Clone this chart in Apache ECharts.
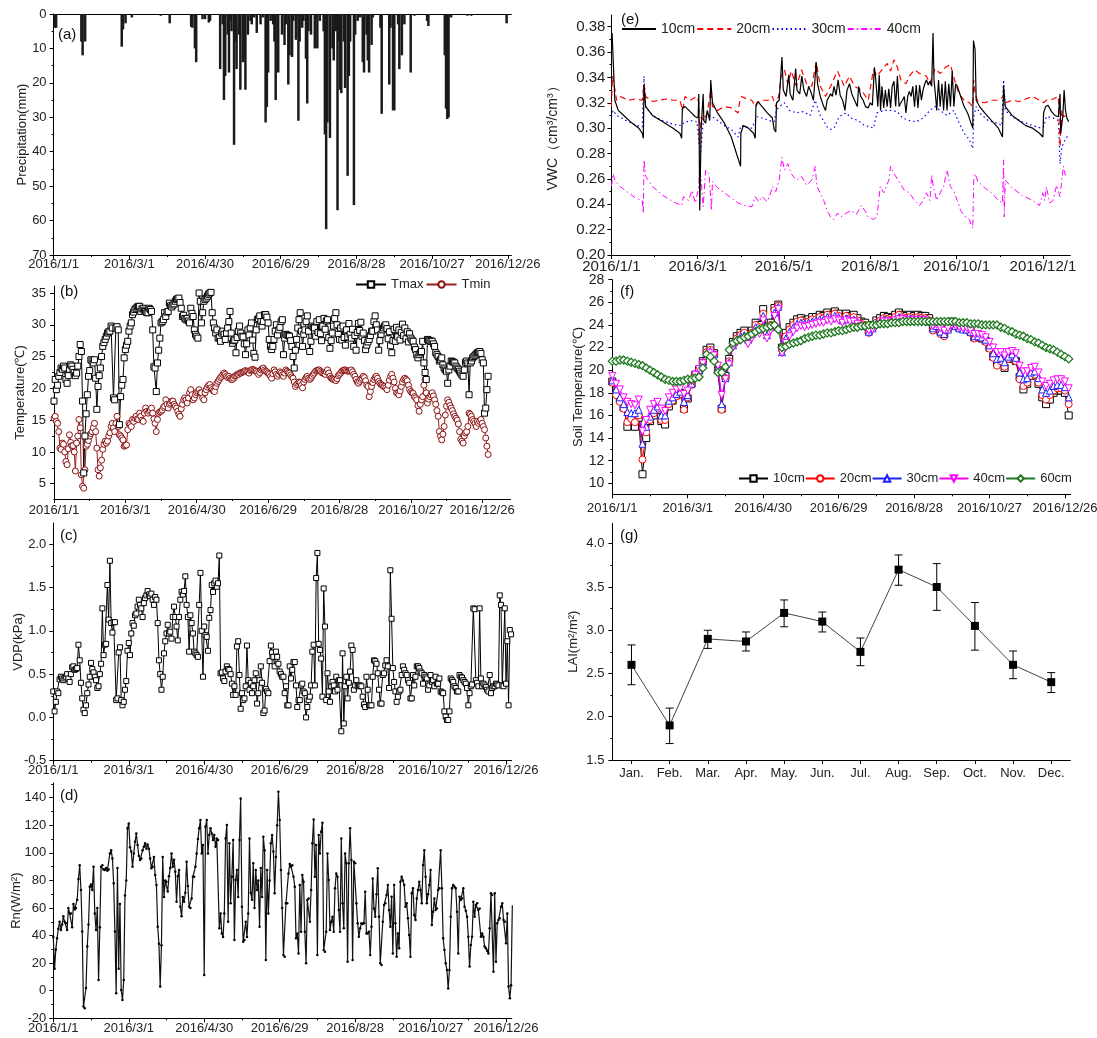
<!DOCTYPE html>
<html>
<head>
<meta charset="utf-8">
<title>2016 meteorology panels</title>
<script src="https://cdn.jsdelivr.net/npm/echarts@6/dist/echarts.min.js"></script>
<style>
  html, body { margin: 0; padding: 0; background: #fff; }
  #main { width: 1097px; height: 1038px; }
</style>
</head>
<body>
<div id="main"></div>
<script>
// ---- tick labels ----
const dateLabels = ['2016/1/1', '2016/3/1', '2016/4/30', '2016/6/29', '2016/8/28', '2016/10/27', '2016/12/26'];
const vwcLabels = ['2016/1/1', '2016/3/1', '2016/5/1', '2016/8/1', '2016/10/1', '2016/12/1'];
const months = ['Jan.', 'Feb.', 'Mar.', 'Apr.', 'May.', 'Jun.', 'Jul.', 'Aug.', 'Sep.', 'Oct.', 'Nov.', 'Dec.'];

// ---- (a) precipitation, day of year -> mm ----
const precipDays = [1,2,22,23,25,54,55,57,62,85,92,109,110,112,113,118,120,123,124,132,134,135,136,138,139,140,141,143,144,145,147,148,150,151,152,154,156,157,159,161,164,166,168,169,170,172,174,175,176,178,181,183,184,186,187,189,190,192,194,195,197,198,200,201,202,204,207,209,211,214,215,216,217,219,221,222,224,225,226,227,228,230,231,233,234,235,238,239,241,243,245,246,248,249,250,252,253,259,260,266,267,269,270,273,274,276,278,283,286,296,297,310,311,312,313,315,328,331,359];
const precipVals = [4,4,8,12,8,9.5,4.5,2.7,1,0.5,2.7,3.7,4,10,14,1.5,1.5,2.5,2,16,3,25,18,6,17,2,5,38,8,16,6,22,14,13,22,6,2,3,1,5.5,3,1,31.5,27,17,2,3,8,25,17,6,9,3,20.5,12,12.5,2,7.5,31,8,4,2,13,26,5,6,10,10,2,5,35,62.5,31.5,36,10,13.5,5,57,8,22,23,8,21.5,47,18,8,55.5,6,2,1,14,17,6,13.5,17,9,1,4,29,20.5,4,28,28,3,16,12,3,17,0.5,2,3.5,12,27.5,30.5,30,1,0.5,0.5,2.7];

// ---- (b) daily air temperature ----
const tmax = [
18,21.4,19.8,20.5,21.9,22.5,23.2,23,23.5,23.2, 21.4,20.8,22,23,23.7,23.5,23,22.5,22,22.4,
23.5,25,26.9,25.8,18,6.7,12.5,16,19,21.9, 22.8,24.5,24.3,24,24.5,21.6,16.7,20.3,22,23.2,
25,26.6,27.2,27.7,28.2,28.7,28.9,29,29.8,29.5, 18.5,18.2,29.5,29.7,29.2,14.3,18.7,20.5,21.4,24.8,
26.1,26.8,27.4,29,29.8,30.3,31.6,32,32.4,32.6, 32.8,32.9,32.9,32.1,32.5,32.6,32.3,32.1,31.9,31.9,
32.6,32.4,32.1,29.2,23.4,23.2,19.5,24,26,27.9, 30.3,30.5,30.8,31.9,31.3,32,32.1,33.4,33,32.8,
33.1,33.3,33.7,34,34.1,34.2,33.5,32.6,31.3,31.5, 31,30.8,31,30.6,30.3,32.6,31.8,31.3,29.2,28.5,
28.2,27.9,35,33.7,30.3,31.9,33.7,34,34.2,34.5, 34.8,35,35.1,31.9,30.3,29.5,28.7,29.2,27.9,28,
27.4,28.7,29,28.5,27.7,28.7,29.5,30.5,32.1,28.7, 27.1,27.5,27.6,25.6,28,29,29.8,28.7,28.2,28.1,
27,25.3,27,29.2,28.4,29.5,30.3,27.6,25.5,24.9, 29.2,30.8,31,31.4,30.5,29.8,30.5,31.6,31.6,31.2,
30.3,27.7,26.6,26.1,26.6,27.7,29,30,28.4,29.2, 29.6,30.5,30.8,25.3,27.9,28.5,28.4,28.3,28.2,27.5,
26.6,25,23.2,26,27.7,29.5,30.8,31.9,29,26.6, 28.5,29.2,30.5,31.4,29,25.8,27.4,29.8,29.6,29.5,
28.2,30.5,28.8,30.8,28.6,27.5,29.8,31,29.3,30.6, 30.8,28,26.3,27.5,28.7,29.8,31,31.9,30,28.5,
27.7,29.5,27.6,29.8,28,26.8,29.2,28.1,30.2,28.5, 27.9,29.3,26.6,28.3,26,28.8,30.2,29.1,30.4,28.2,
28.7,27.5,26.1,26.8,27.3,27.7,28.3,29,29,30.5, 31.4,30,29.2,26,27.5,28.5,29.2,29.5,29.8,30,
29.4,27.8,28.9,26.7,25.6,27.5,29.3,27.4,29.6,28.1, 29.2,27.6,28.8,30.1,28.3,29.5,27.8,28.9,27.3,28.6,
27.9,27.6,27.4,26.5,26.1,25.3,24.8,25.3,25.6,25.8, 27.4,24,22.5,21.4,27.7,27.6,27.5,27.4,27.4,27,
26.6,25.6,25.3,25,24.3,24.5,24.8,23.7,23.2,22.9, 22.7,20.8,22.9,23.5,24.3,24.2,24.1,24,23.5,23.2,
23,22.7,22.4,22.1,21.9,22.9,24.1,24.3,24,19, 24,24.3,24.8,25,25.2,25.4,25.6,25.7,25.8,25.5,
24.5,24,16.1,16.9,19.8,21.9];
const tmin = [
15.3,15.6,14.8,14.5,13.2,10.6,10.4,11.4,11.2,10, 8.5,8,10.5,12.7,11.5,11,11,10,7,11.4,
12.5,15.1,13.8,6.4,4.6,4.3,7.2,10.9,11.2,11.8, 12.5,12.9,13.2,13.8,14.5,13.2,10.6,7.2,6.2,7.5,
8.7,10.4,11.2,11.7,11.4,11.7,12.5,13,14,14.5, 13.8,13.2,14.5,15.6,14,12.7,12.5,12.2,11.9,10.9,
11,11.1,13.5,14.5,14.3,14,15.1,14.8,15.3,15.6, 15.2,15.1,16.1,15.6,15,14.8,16.1,16.9,16.4,16.1,
16.4,16.6,16.9,16.1,15.2,14.5,13.2,15.1,16.1,16.3, 16.4,16.6,17,17.2,18.2,17.5,16.9,17.5,17.7,18,
18,17.5,17.2,16.9,16.4,15.9,15.6,16.8,17.5,18.2, 18.5,18.2,17.7,18.5,19.3,19.8,19,18.2,18.5,19,
19.3,19.5,19.8,19.3,19.3,18.5,18.2,19.3,19.8,20.2, 20.5,20.6,20.1,19.8,19.6,19.5,20.3,20.8,21.1,21.4,
21.7,21.9,22.2,22.4,22.2,21.9,21.7,21.9,21.6,21.4, 21.4,21.6,21.9,22,22.2,22.2,22.4,22.4,22.5,22.6,
22.7,22.8,22.7,22.6,22.4,22.8,22.9,23,22.9,22.8, 22.7,22.5,22.2,22.5,22.9,23.1,23.2,22.9,22.7,22.6,
22.4,22.2,21.9,21.6,22.3,22.9,22.6,22.2,21.9,22.2, 22.6,22.4,22.1,21.9,22.4,22.9,22.7,22.5,22.4,22.1,
21.8,21.6,21,20.3,20.6,20.8,21,20.9,20.5,20.1, 21,21.4,21.7,21.9,21.6,21.4,21.6,21.9,22.2,22.4,
22.7,22.8,22.9,22.9,22.7,22.5,22.4,22.3,22.2,22.6, 22.9,22.4,21.9,21.6,21.5,21.4,21.4,21.2,21.5,22,
22.2,22.4,22.7,22.8,22.9,22.9,22.8,22.7,22.7,22.8, 22.9,22.6,22.2,21.9,21.4,21,20.8,21.1,21.4,21.6,
21.9,21.7,21.2,20.5,20.3,18.7,19.5,20.3,20.9,21.4, 21.7,21.9,21.6,21.1,20.8,20.6,20.5,20.3,20.3,20.1,
19.8,20.5,21.3,21.9,22.2,21.6,21,20,19.3,19.2, 19,19.6,20.3,21,21.4,21.6,21.4,21.2,20.5,19.8,
19.5,19.3,19.2,18.7,18.5,18.2,17.3,16.4,17.5,18.2, 18.7,20.5,21.4,19.3,17.7,18.3,18.7,19,19.3,18.8,
18.2,17.5,16.5,15.6,13.2,12.5,11.9,12.8,14,15.8, 17.2,18.2,17.8,17.3,16.9,16.5,16,15.6,15.3,15,
14.4,13.2,12,11.7,11.4,12.5,13,13.2,14,16.1, 15.9,15.6,15.1,14.8,14.5,14,14.8,14.5,14.8,15.1,
14.5,14,13.5,12.2,10.9,9.6];

// ---- (c) daily VPD (kPa) ----
const vpd = [
0.3,0.07,0.18,0.3,0.28,0.44,0.47,0.45,0.43,0.45, 0.47,0.5,0.45,0.41,0.5,0.58,0.59,0.55,0.56,0.57,
0.84,0.66,0.4,0.22,0.09,0.05,0.14,0.28,0.38,0.47, 0.63,0.56,0.52,0.47,0.43,0.34,0.36,0.5,0.62,1.26,
0.72,0.84,0.85,1.53,1.13,1.81,1.09,0.98,1.1,1.1, 0.2,0.22,0.75,0.81,0.2,0.14,0.18,0.32,0.42,0.77,
0.86,0.72,0.97,1.09,1.06,1.18,1.2,1.28,1.36,1.3, 1.26,1.16,1.32,1.38,1.41,1.46,1.42,1.4,1.43,1.36,
1.3,1.39,1.36,1.09,0.66,0.5,0.32,0.47,0.74,0.88, 0.97,1.07,0.97,0.99,0.91,1.16,1.28,1.16,1.05,0.89,
1.16,1.36,1.45,1.42,1.46,1.63,1.3,1.16,0.76,1.18, 1.09,0.97,0.76,0.74,0.72,0.7,1.3,1.67,1.0,0.47,
1.05,0.95,0.93,0.77,1.15,1.24,1.53,1.45,1.55,1.58, 1.51,1.55,1.87,0.51,0.52,0.45,0.42,0.53,0.59,0.56,
0.55,0.5,0.39,0.26,0.36,0.26,0.82,0.88,0.49,0.1, 0.28,0.2,0.22,0.36,0.83,0.43,0.32,0.4,0.28,0.36,
0.43,0.51,0.16,0.28,0.43,0.59,0.4,0.05,0.08,0.33, 0.3,0.28,0.65,0.83,0.75,0.7,0.59,0.76,0.7,0.62,
0.53,0.5,0.47,0.47,0.28,0.36,0.14,0.14,0.59,0.45, 0.55,0.64,0.64,0.37,0.12,0.2,0.2,0.37,0.39,0.3,
0.28,0,0.12,0.2,0.24,0.37,0.76,0.84,0.37,1.61, 1.9,0.85,0.78,0.68,0.24,1.49,1.05,0.2,0.51,0.3,
0.18,0.36,0.41,0.37,0.3,0.47,0.32,0.43,0.43,-0.16, 0.74,-0.07,0.36,0.47,0.22,0.4,0.53,0.83,0.78,0.32,
0.37,0.43,0.36,0.37,0.37,0.36,0.24,0.15,0.12,0.47, 0.32,0.14,0.14,0.14,0.47,0.66,0.65,0.62,0.51,0.32,
0.16,0.16,0.49,0.51,0.6,0.66,0.59,0.34,1.7,1.14, 0.57,0.41,0.3,0.18,0.24,0.3,0.32,0.49,0.59,0.55,
0.51,0.49,0.43,0.4,0.22,0.22,0.49,0.37,0.47,0.59, 0.59,0.57,0.53,0.51,0.39,0.49,0.47,0.45,0.32,0.37,
0.49,0.41,0.43,0.36,0.47,0.39,0.39,0.45,0.3,0.29, 0.28,0.07,0.01,-0.03,-0.03,0.07,0.45,0.43,0.41,0.36,
0.34,0.3,0.3,0.49,0.47,0.46,0.43,0.41,0.39,0.34, 0.14,0.28,0.36,0.38,1.26,1.25,0.43,0.4,0.36,1.26,
0.45,0.36,0.39,0.37,0.35,0.32,0.3,0.49,0.28,0.34, 0.36,0.36,0.39,0.38,0.37,1.41,1.3,0.37,0.36,1.26,
0.39,0.88,0.14,1.01,0.96];

// ---- (d) daily net radiation (W/m2) ----
const rn = [
39,16,30,38,45,50,44,48,54,50, 49,44,60,56,56,46,63,59,60,66,
81,91,73,43,-11.5,-12.7,2,32,48,75.5, 77,73,90,56,44,60,7.8,46,90,91,
88,87.6,89,87,88,99.6,102,96,78,43, -1.9,89,16,63,0.6,-6.7,7.8,69,80,117.8,
121.4,104,101,90,99.6,108,114,105.7,98,94.8, 96,102,104.5,107,103,106,103,96,88.8,90,
97,84,76.7,46.5,34,3,33,97,68,80, 79,72,83,89,99.6,90,95,86.4,64.6,83,
87.6,61,54,68,64.6,71,93.6,76,61,60, 67,82.7,82.7,90,99.6,110,117.8,123.8,99.6,105.7,
11.4,119,123.8,99.6,113,117.8,114,109.3,113,104.5, 110.5,109.3,45.3,56,41.6,39,56,110.5,120.2,50,
107,63.4,82.7,109.3,36.8,80.3,87.6,68,109.3,139.5, 61,35.6,36.8,50,39,56,110.5,71,66,92.4,
60,87.6,73,80,46.5,89,68,111.7,102,22.3, 87.6,56,80,107,113,101,70.7,97,120,144.4,
123.8,87.6,60,26,24.7,63.4,63.4,85,92,90, 91,82.7,75.5,38,41.6,27,76.7,42.8,84,79.1,
42.8,19.9,65.8,67,50,73,107,124.3,82.7,105.7, 26,113,99.6,115.3,121.9,29.5,28.3,42.8,99.6,80.3,
44,50,53.7,42.8,74.3,85,82.7,58.5,42.8,110.5, 63.4,45.3,99.6,92.4,21,92.4,117.8,94.8,22.3,93.6,
92.4,63.4,48.9,39.2,45.3,48.9,48.4,48.9,71.8,41.6, 41.6,42.8,26,46.5,81.5,59.7,53.7,70,88.8,53.7,
19.9,18.7,50,62.2,63.4,69.4,76.7,58.5,46.5,68.2, 27.1,76.7,48.9,24.7,41.6,30.8,79.1,82.7,80,76.7,
61,63.4,52.5,40.4,24.7,70.7,74.3,54.9,51.3,67, 73.1,79.1,73.1,63.4,91.2,102,82.7,63.4,70,76.7,
87.6,47.7,57.3,67,58.5,59.7,73.1,74.3,102,74.3, 38,29.5,19.9,15,1.7,15,53.7,74.3,76.7,75.5,
74.3,57.3,27.1,68.2,65.8,67,74.3,61,58,53.7, 39.2,17.5,33.2,39.2,64.6,53.7,62.2,63.4,58.5,59.7,
39.2,41.6,39.2,32,30.8,29,27.1,45.3,70.7,69.4, 13.8,70.7,21,48.9,51.3,52.5,61,63.4,51.3,50,
34.4,56,3,-5.5,4,62];

// ---- (e) soil water content, [observation index, cm3/cm3] ----
const vwc10 = [[0,0.369],[0.5,0.375],[2.5,0.322],[5,0.314],[10,0.309],[15,0.304],[20,0.300],[22.5,0.296],[23.3,0.292],[23.8,0.334],[25,0.317],[30,0.310],[37.5,0.305],[45,0.300],[50,0.296],[51.3,0.292],[51.8,0.316],[53.8,0.317],[57.5,0.313],[61.3,0.309],[63.3,0.308],[63.8,0.327],[64.5,0.235],[65.5,0.299],[67,0.327],[67.5,0.306],[68.8,0.304],[70,0.314],[71.8,0.306],[72.5,0.338],[73.8,0.320],[77.5,0.312],[82.5,0.304],[87.5,0.293],[91.3,0.280],[94.3,0.270],[94.5,0.296],[96.3,0.302],[100,0.300],[103.8,0.296],[105,0.292],[105.5,0.317],[107,0.321],[110,0.317],[113.8,0.312],[117.5,0.308],[118.8,0.299],[120,0.297],[120.5,0.320],[122.5,0.322],[124.5,0.356],[125.5,0.330],[127.5,0.325],[129.5,0.342],[130.5,0.327],[132.5,0.322],[134.5,0.347],[135.5,0.330],[137.5,0.327],[139,0.341],[140.5,0.330],[142.5,0.325],[144,0.333],[145.5,0.329],[147.5,0.322],[149.5,0.352],[150.5,0.335],[152.5,0.325],[155,0.317],[156.3,0.314],[157.5,0.322],[160,0.327],[161.3,0.325],[162.5,0.333],[164,0.326],[165.5,0.338],[167,0.326],[168.8,0.322],[170.5,0.314],[172,0.330],[173.8,0.335],[175.5,0.327],[177.5,0.322],[179.5,0.317],[180.5,0.333],[182,0.325],[183.8,0.322],[185.5,0.317],[187.5,0.316],[189,0.320],[190.5,0.318],[192,0.348],[193,0.338],[194.5,0.317],[195.5,0.342],[196.5,0.314],[197.5,0.333],[198.8,0.316],[200,0.330],[201.3,0.317],[202.5,0.331],[203.8,0.316],[205,0.333],[206.3,0.337],[207.5,0.317],[208.8,0.341],[210,0.317],[211.3,0.320],[212.5,0.322],[213.8,0.325],[215,0.312],[216.3,0.325],[217.5,0.329],[218.8,0.325],[220,0.333],[221.3,0.317],[222.5,0.334],[223.8,0.316],[225,0.334],[226.3,0.322],[227.5,0.330],[228.8,0.335],[230,0.338],[231.3,0.334],[232.5,0.337],[233.8,0.333],[234.8,0.375],[235.5,0.338],[236.5,0.327],[237.5,0.314],[238.8,0.338],[240,0.317],[241.3,0.335],[242.5,0.314],[243.8,0.337],[245,0.314],[246.3,0.335],[247.5,0.317],[248.8,0.345],[250,0.317],[251.3,0.335],[252.5,0.333],[255,0.325],[257.5,0.317],[260,0.312],[262.5,0.304],[263.8,0.300],[264.3,0.369],[265.5,0.362],[266.3,0.322],[268.8,0.317],[272.5,0.312],[277.5,0.306],[282.5,0.300],[285.5,0.293],[286.3,0.334],[287.5,0.317],[292.5,0.310],[297.5,0.306],[302.5,0.302],[307.5,0.300],[312.5,0.296],[315,0.293],[315.5,0.312],[317,0.317],[318.8,0.318],[321.3,0.313],[323.8,0.310],[326.3,0.309],[327.5,0.327],[328,0.296],[329.5,0.309],[330.5,0.330],[331.5,0.314],[332.5,0.308],[333.8,0.305]];
const vwc20 = [[0,0.317],[0.8,0.341],[2.5,0.331],[3.8,0.322],[6.3,0.325],[12.5,0.322],[17.5,0.323],[22.5,0.322],[23.8,0.335],[25,0.325],[30,0.321],[35,0.322],[40,0.323],[45,0.322],[50,0.322],[52,0.314],[53.8,0.325],[57.5,0.322],[62.5,0.325],[63.8,0.320],[64.5,0.288],[65.5,0.309],[67.5,0.306],[70,0.312],[72.5,0.330],[73.8,0.317],[77.5,0.314],[82.5,0.317],[87.5,0.316],[92.5,0.312],[93.8,0.322],[95,0.325],[98.8,0.323],[102.5,0.322],[105,0.317],[106.3,0.320],[110,0.322],[115,0.322],[117.5,0.325],[120,0.317],[122.5,0.327],[123.8,0.341],[126.3,0.346],[128.8,0.335],[131.3,0.345],[135,0.333],[138.8,0.346],[142.5,0.335],[146.3,0.333],[149.5,0.352],[152.5,0.333],[156.3,0.325],[160,0.333],[165,0.345],[170,0.333],[173.8,0.341],[177.5,0.333],[182.5,0.330],[187.5,0.322],[191.3,0.346],[193.8,0.341],[197.5,0.346],[201.3,0.351],[203.8,0.345],[206.3,0.354],[208.8,0.348],[211.3,0.338],[215,0.335],[217.5,0.341],[221.3,0.346],[225,0.343],[230,0.341],[232.5,0.335],[236.3,0.347],[240,0.343],[243.8,0.348],[247.5,0.350],[251.3,0.335],[253.8,0.327],[257.5,0.322],[261.3,0.320],[263.8,0.317],[264.5,0.338],[265.5,0.327],[267.5,0.321],[272.5,0.320],[277.5,0.322],[282.5,0.322],[286.3,0.325],[287.5,0.320],[292.5,0.322],[297.5,0.321],[302.5,0.323],[307.5,0.325],[312.5,0.322],[315.5,0.320],[317.5,0.322],[322.5,0.323],[326.3,0.325],[327.5,0.285],[328.8,0.314],[330,0.309],[332.5,0.310],[333.8,0.309]];
const vwc30 = [[0,0.309],[1.3,0.314],[3.8,0.310],[7.5,0.308],[12.5,0.305],[18.8,0.302],[22.5,0.301],[23.8,0.341],[25,0.317],[30,0.310],[37.5,0.306],[45,0.303],[51.3,0.302],[52.5,0.304],[57.5,0.306],[62.5,0.305],[63.8,0.291],[65,0.278],[66.3,0.296],[67.5,0.309],[72.5,0.310],[77.5,0.306],[82.5,0.302],[87.5,0.299],[92.5,0.293],[94.5,0.302],[97.5,0.301],[102.5,0.300],[106.3,0.309],[110,0.308],[115,0.306],[118.8,0.305],[120.5,0.314],[122.5,0.317],[126.3,0.320],[130,0.314],[135,0.312],[140,0.313],[145,0.310],[148.8,0.322],[152.5,0.310],[157.5,0.301],[160,0.299],[162.5,0.300],[166.3,0.309],[171.3,0.312],[175,0.308],[180,0.306],[185,0.302],[188.8,0.301],[191.3,0.300],[193.8,0.312],[198.8,0.314],[203.8,0.314],[208.8,0.313],[212.5,0.308],[217.5,0.306],[222.5,0.305],[227.5,0.308],[232.5,0.314],[236.3,0.317],[240,0.314],[245,0.310],[250,0.314],[253.8,0.304],[257.5,0.296],[261.3,0.291],[263.8,0.284],[264.5,0.309],[266.3,0.317],[268.8,0.312],[275,0.306],[281.3,0.304],[285,0.302],[286.3,0.338],[287.5,0.314],[292.5,0.309],[300,0.305],[307.5,0.302],[313.8,0.300],[315.5,0.301],[317.5,0.309],[322.5,0.308],[326.3,0.306],[327.5,0.272],[328.8,0.285],[331.3,0.291],[333.8,0.295]];
const vwc40 = [[0,0.254],[1.3,0.264],[2.5,0.259],[6.3,0.254],[12.5,0.249],[17.5,0.245],[22.5,0.243],[23.3,0.233],[23.8,0.275],[25,0.262],[30,0.254],[37.5,0.247],[45,0.242],[51.3,0.239],[52.5,0.246],[56.3,0.243],[58.8,0.251],[61.3,0.241],[63.8,0.254],[64.5,0.272],[65.5,0.259],[67,0.238],[68.8,0.267],[71.3,0.264],[73,0.235],[73.8,0.258],[77.5,0.253],[82.5,0.249],[87.5,0.245],[92.5,0.241],[97.5,0.239],[102.5,0.238],[105,0.246],[107.5,0.242],[110,0.246],[113.8,0.242],[116.3,0.249],[117.5,0.254],[120,0.250],[122.5,0.259],[124.5,0.277],[126.3,0.267],[128.8,0.272],[131.3,0.264],[135,0.259],[138.8,0.262],[142.5,0.255],[146.3,0.259],[148.8,0.270],[150,0.254],[152.5,0.249],[155,0.243],[157.5,0.235],[160,0.230],[162.5,0.228],[165,0.233],[167.5,0.230],[171.3,0.233],[175,0.235],[178.8,0.232],[182.5,0.239],[185,0.235],[187.5,0.230],[191.3,0.228],[193.8,0.230],[196.3,0.254],[198.8,0.249],[202.5,0.259],[203.8,0.270],[206.3,0.264],[210,0.258],[213.8,0.251],[217.5,0.249],[221.3,0.243],[225,0.239],[227.5,0.243],[230,0.249],[232.5,0.243],[233.8,0.263],[235,0.254],[237.5,0.243],[240,0.249],[242.5,0.254],[245,0.267],[247.5,0.254],[250,0.250],[252.5,0.243],[255,0.235],[257.5,0.231],[261.3,0.228],[263.8,0.221],[264.5,0.259],[265.5,0.264],[267.5,0.258],[272.5,0.253],[277.5,0.249],[282.5,0.243],[285.5,0.241],[286.3,0.275],[286.8,0.230],[287.5,0.259],[292.5,0.253],[300,0.247],[307.5,0.243],[312.5,0.239],[315,0.249],[316.3,0.243],[317.5,0.254],[320,0.241],[322.5,0.243],[325,0.255],[327.5,0.246],[328.8,0.259],[330,0.270],[331.3,0.263],[332.5,0.264]];

// ---- (f) soil temperature every 3 days ----
const soil10 = [19.0,18.0,17.4,16.7,15.0,15.5,15.0,15.8,10.8,14.0, 15.5,16.0,16.5,15.5,15.2,16.8,17.3,17.8,18.0,16.6, 17.5,18.8,19.6,20.0,20.8,21.8,22.0,21.5,20.0,16.6, 19.5,21.0,22.5,23.0,23.3,23.5,23.0,23.5,24.2,24.0, 25.4,23.5,24.2,25.5,25.8,22.0,23.3,23.8,24.2,24.5, 24.6,24.4,24.5,24.7,24.7,24.9,24.8,25.1,24.9,25.2, 25.0,24.7,25.0,24.8,24.9,24.6,24.3,24.2,23.5,24.0, 24.4,24.6,24.8,24.7,24.6,24.9,25.1,24.9,24.8,24.9, 24.8,24.9,24.8,24.8,24.6,23.7,24.0,23.5,23.2,23.8, 24.3,24.0,23.8,23.7,23.8,23.4,22.9,23.0,22.8,22.6, 22.0,21.2,20.6,20.9,20.2,21.0,21.2,20.8,19.4,18.3, 18.8,19.5,19.6,18.8,17.6,17.0,17.4,18.0,18.2,18.2, 18.0,16.0];
const soil20 = [18.9,17.8,17.2,16.6,15.4,15.7,15.4,16.0,12.1,14.5, 15.6,16.2,16.6,15.6,15.6,17.0,17.3,17.7,17.9,16.5, 17.6,18.7,19.5,20.0,20.7,21.6,21.8,21.4,20.0,16.5, 19.3,20.8,22.3,22.8,23.1,23.3,22.8,23.3,24.0,23.8, 25.0,23.3,24.0,25.3,25.7,21.8,23.0,23.6,24.0,24.3, 24.4,24.2,24.3,24.5,24.5,24.7,24.6,24.9,24.7,25.0, 24.8,24.5,24.8,24.6,24.7,24.4,24.1,24.0,23.3,23.8, 24.2,24.4,24.6,24.5,24.4,24.7,24.9,24.7,24.6,24.7, 24.6,24.7,24.6,24.6,24.4,23.5,23.9,23.2,23.0,23.6, 24.1,23.9,23.7,23.6,23.7,23.3,22.8,22.9,22.8,22.5, 21.9,21.1,20.4,20.8,20.3,21.0,21.2,20.8,19.2,18.6, 18.9,19.5,19.6,18.9,17.8,17.4,17.8,18.2,18.4,18.4, 18.2,17.0];
const soil30 = [19.1,18.3,17.6,17.0,16.3,16.2,16.2,16.5,13.5,15.0, 15.9,16.5,16.8,16.0,16.0,17.3,17.6,17.9,18.1,17.2, 17.8,18.8,19.5,20.0,20.7,21.5,21.7,21.4,20.2,17.0, 19.3,20.7,22.2,22.7,23.0,23.1,22.7,23.2,23.8,23.6, 24.8,23.1,23.8,25.1,25.6,21.6,22.8,23.4,23.8,24.1, 24.2,24.1,24.2,24.3,24.4,24.5,24.5,24.7,24.6,24.8, 24.7,24.4,24.6,24.5,24.5,24.3,24.0,23.9,23.4,23.7, 24.1,24.3,24.5,24.4,24.3,24.5,24.7,24.6,24.5,24.6, 24.5,24.6,24.5,24.5,24.3,23.7,23.9,23.4,23.2,23.6, 24.0,23.9,23.7,23.6,23.6,23.4,23.0,23.0,22.9,22.7, 22.2,21.5,21.0,21.1,20.7,21.2,21.4,21.1,19.8,19.2, 19.3,19.8,19.9,19.3,18.3,18.0,18.2,18.6,18.7,18.7, 18.5,17.6];
const soil40 = [19.5,18.8,18.3,17.6,17.2,17.0,16.9,17.4,14.6,15.6, 16.5,17.0,17.2,16.6,16.4,17.6,18.0,18.3,18.4,17.9, 18.2,19.0,19.6,20.1,20.6,21.3,21.5,21.3,20.4,17.8, 19.2,20.5,22.0,22.4,22.6,22.8,22.3,22.8,23.4,23.2, 24.4,22.8,23.5,24.8,25.4,21.5,22.4,23.0,23.4,23.7, 23.9,23.8,23.9,24.0,24.1,24.2,24.2,24.4,24.3,24.5, 24.4,24.2,24.4,24.3,24.3,24.1,23.9,23.8,23.5,23.6, 23.9,24.1,24.3,24.3,24.2,24.4,24.5,24.5,24.4,24.4, 24.4,24.4,24.4,24.4,24.3,23.9,24.0,23.7,23.5,23.7, 24.0,23.9,23.8,23.7,23.7,23.5,23.2,23.2,23.1,22.9, 22.5,22.0,21.6,21.6,21.3,21.6,21.7,21.5,20.4,19.9, 19.9,20.2,20.3,19.8,19.0,18.6,18.8,19.1,19.2,19.2, 19.0,18.4];
const soil60 = [20.8,20.8,20.9,20.9,20.8,20.7,20.6,20.5,20.4,20.2, 20.0,19.8,19.6,19.4,19.2,19.1,19.0,19.0,19.0,19.1, 19.2,19.2,19.3,19.4,20.2,21.4,21.2,20.8,19.8,19.8, 20.3,21.8,22.4,22.6,22.7,22.9,23.0,23.2,23.4,23.6, 23.7,23.8,23.9,24.0,23.6,22.0,22.1,22.3,22.4,22.5, 22.6,22.8,22.9,23.0,23.1,23.1,23.2,23.3,23.3,23.4, 23.5,23.5,23.6,23.7,23.8,23.8,23.9,23.9,24.0,24.0, 24.0,24.1,24.1,24.1,24.2,24.2,24.2,24.3,24.3,24.3, 24.3,24.3,24.3,24.3,24.3,24.3,24.3,24.3,24.3,24.3, 24.3,24.3,24.2,24.2,24.2,24.1,24.1,24.1,24.0,24.0, 24.0,24.0,24.0,23.8,23.7,23.5,23.4,23.2,23.1,23.0, 22.8,22.7,22.5,22.4,22.2,22.0,21.9,21.8,21.6,21.4, 21.2,21.0];

// ---- (g) monthly LAI ----
const laiMean = [2.6, 1.9, 2.9, 2.87, 3.2, 3.1, 2.75, 3.7, 3.5, 3.05, 2.6, 2.4];
const laiLow  = [2.37, 1.69, 2.79, 2.76, 3.04, 2.98, 2.59, 3.52, 3.23, 2.77, 2.44, 2.28];
const laiHigh = [2.83, 2.1, 3.0, 2.98, 3.35, 3.21, 2.91, 3.87, 3.77, 3.32, 2.76, 2.51];

// ---------------------------------------------------------------
const FONT = 'Arial, "Liberation Sans", Helvetica, sans-serif';
const steps = (a, b, s) => { const r = []; for (let i = 0; a + i * s <= b + 1e-9; i++) r.push(+(a + i * s).toFixed(4)); return r; };
const dayFmt = v => dateLabels[Math.round(v / 60)];

const grids = [
  { left: 53.6, top: 14, width: 457.8, height: 241 },     // a
  { left: 54, top: 286, width: 456.7, height: 213 },      // b
  { left: 53.3, top: 523, width: 458.4, height: 237.7 },  // c
  { left: 53.3, top: 783, width: 458.4, height: 235.3 },  // d
  { left: 611.4, top: 15, width: 458.9, height: 240 },    // e
  { left: 612.3, top: 279.7, width: 458.4, height: 214.6 }, // f
  { left: 612.4, top: 523.3, width: 457.9, height: 236.7 }  // g
].map(g => Object.assign(g, { containLabel: false, outerBoundsMode: 'none' }));

const xAxes = [], yAxes = [];
// main axis (labels + major ticks) plus a twin carrying the minor ticks
function axis(list, dim, g, o) {
  const base = { type: 'value', gridIndex: g, position: dim === 'x' ? 'bottom' : 'left',
    min: o.min, max: o.max, inverse: !!o.inverse, splitLine: { show: false } };
  const main = Object.assign({}, base, {
    axisLine: { show: true, onZero: false, lineStyle: { color: '#000', width: 1 } },
    axisTick: { show: true, customValues: o.major, length: 4, lineStyle: { color: '#000' } },
    axisLabel: { customValues: o.major, formatter: o.fmt, color: '#222', fontSize: o.fs || 13, margin: o.margin, fontFamily: FONT }
  });
  if (o.name) Object.assign(main, { name: o.name, nameLocation: 'middle', nameGap: o.gap, nameMoveOverlap: false,
    nameTextStyle: { fontSize: o.nfs || 13, color: '#222', fontFamily: FONT } });
  const idx = list.length;
  list.push(main);
  list.push(Object.assign({}, base, {
    axisLine: { show: false, onZero: false },
    axisTick: { show: true, customValues: o.minor, length: 2, lineStyle: { color: '#000' } },
    axisLabel: { show: false }
  }));
  return idx;
}
const dayMajor = steps(0, 360, 60), dayMinor = steps(30, 330, 60);

// (a)
const xa = axis(xAxes, 'x', 0, { min: 0, max: 362.8, major: dayMajor, minor: dayMinor, fmt: dayFmt, margin: 3 });
xAxes.push({ type: 'value', gridIndex: 0, position: 'top', min: 0, max: 362.8, axisLine: { show: true, onZero: false, lineStyle: { color: '#000' } }, axisTick: { show: false }, axisLabel: { show: false }, splitLine: { show: false } });
const ya = axis(yAxes, 'y', 0, { min: 0, max: 70, inverse: true, major: steps(0, 70, 10), minor: steps(5, 65, 10), fmt: v => String(v), margin: 7, name: 'Precipitation(mm)', gap: 25 });
// (b)
const xb = axis(xAxes, 'x', 1, { min: 0, max: 384, major: dayMajor, minor: dayMinor, fmt: dayFmt, margin: 5 });
const yb = axis(yAxes, 'y', 1, { min: 2.6, max: 36.1, major: steps(5, 35, 5), minor: steps(7.5, 32.5, 5), fmt: v => String(v), margin: 8, name: 'Temperature(℃)', gap: 27 });
// (c)
const xc = axis(xAxes, 'x', 2, { min: 0, max: 364.5, major: dayMajor, minor: dayMinor, fmt: dayFmt, margin: 3 });
const yc = axis(yAxes, 'y', 2, { min: -0.5, max: 2.246, major: steps(-0.5, 2, 0.5), minor: steps(-0.25, 1.75, 0.5), fmt: v => v.toFixed(1), margin: 7, name: 'VDP(kPa)', gap: 28 });
// (d)
const xd = axis(xAxes, 'x', 3, { min: 0, max: 364.5, major: dayMajor, minor: dayMinor, fmt: dayFmt, margin: 4 });
const yd = axis(yAxes, 'y', 3, { min: -20, max: 150.7, major: steps(-20, 140, 20), minor: steps(-10, 150, 20), fmt: v => String(v), margin: 7, name: 'Rn(W/m²)', gap: 30 });
// (e)
const xe = axis(xAxes, 'x', 4, { min: 0, max: 335, major: steps(0, 315, 63), minor: steps(31.5, 283.5, 63), fmt: v => vwcLabels[Math.round(v / 63)], fs: 15, margin: 4 });
const ye = axis(yAxes, 'y', 4, { min: 0.2, max: 0.3892, major: steps(0.2, 0.38, 0.02), minor: steps(0.21, 0.37, 0.02), fmt: v => v.toFixed(2), fs: 15, margin: 6, name: 'VWC（cm³/cm³）', gap: 51, nfs: 14 });
// (f)
const xf = axis(xAxes, 'x', 5, { min: 0, max: 364.6, major: dayMajor, minor: dayMinor, fmt: dayFmt, margin: 8 });
const yf = axis(yAxes, 'y', 5, { min: 9.03, max: 28, major: steps(10, 28, 2), minor: steps(11, 27, 2), fmt: v => String(v), fs: 14, margin: 8, name: 'Soil Temperature(℃)', gap: 27 });
// (g)
const xg = xAxes.length;
xAxes.push({ type: 'category', gridIndex: 6, data: months, boundaryGap: true,
  axisLine: { show: true, lineStyle: { color: '#000' } }, axisTick: { show: true, alignWithLabel: true, length: 4, lineStyle: { color: '#000' } },
  axisLabel: { color: '#222', fontSize: 13, margin: 7, fontFamily: FONT }, splitLine: { show: false } });
const yg = axis(yAxes, 'y', 6, { min: 1.5, max: 4.236, major: steps(1.5, 4, 0.5), minor: steps(1.75, 3.75, 0.5), fmt: v => v.toFixed(1), margin: 8, name: 'LAI(m²/m²)', gap: 32 });

const daily = arr => arr.map((v, i) => [i, v]);
const every3 = arr => arr.map((v, i) => [i * 3, v]);
const hollow = (c) => ({ color: '#fff', borderColor: c, borderWidth: 1 });

const series = [
  { type: 'bar', xAxisIndex: xa, yAxisIndex: ya, data: precipDays.map((d, i) => [d, precipVals[i]]), barWidth: 2.5, itemStyle: { color: '#1a1a1a' } },

  { type: 'line', name: 'Tmin', xAxisIndex: xb, yAxisIndex: yb, data: daily(tmin), symbol: 'circle', symbolSize: 6,
    lineStyle: { color: '#9a1c1c', width: 1 }, itemStyle: hollow('#8b1010') },
  { type: 'line', name: 'Tmax', xAxisIndex: xb, yAxisIndex: yb, data: daily(tmax), symbol: 'rect', symbolSize: 6,
    lineStyle: { color: '#000', width: 1 }, itemStyle: hollow('#000') },

  { type: 'line', xAxisIndex: xc, yAxisIndex: yc, data: daily(vpd), symbol: 'rect', symbolSize: 5,
    lineStyle: { color: '#000', width: 1 }, itemStyle: hollow('#000') },

  { type: 'line', xAxisIndex: xd, yAxisIndex: yd, data: daily(rn), symbol: 'circle', symbolSize: 2.5,
    lineStyle: { color: '#111', width: 1.2 }, itemStyle: { color: '#000' } },

  { type: 'line', name: '40cm', xAxisIndex: xe, yAxisIndex: ye, data: vwc40, symbol: 'none',
    lineStyle: { color: '#ff00ff', width: 1, type: [6, 3, 1.5, 3] }, itemStyle: { color: '#ff00ff' } },
  { type: 'line', name: '30cm', xAxisIndex: xe, yAxisIndex: ye, data: vwc30, symbol: 'none',
    lineStyle: { color: '#0000ff', width: 1.2, type: [1.5, 3] }, itemStyle: { color: '#0000ff' } },
  { type: 'line', name: '20cm', xAxisIndex: xe, yAxisIndex: ye, data: vwc20, symbol: 'none',
    lineStyle: { color: '#ff0000', width: 1.2, type: [6, 4] }, itemStyle: { color: '#ff0000' } },
  { type: 'line', name: '10cm', xAxisIndex: xe, yAxisIndex: ye, data: vwc10, symbol: 'none',
    lineStyle: { color: '#000', width: 1.2 }, itemStyle: { color: '#000' } },

  { type: 'line', name: '10cm ', xAxisIndex: xf, yAxisIndex: yf, data: every3(soil10), symbol: 'rect', symbolSize: 7,
    lineStyle: { color: '#000', width: 1 }, itemStyle: hollow('#000') },
  { type: 'line', name: '20cm ', xAxisIndex: xf, yAxisIndex: yf, data: every3(soil20), symbol: 'circle', symbolSize: 7,
    lineStyle: { color: '#ff0000', width: 1 }, itemStyle: hollow('#ff0000') },
  { type: 'line', name: '30cm ', xAxisIndex: xf, yAxisIndex: yf, data: every3(soil30), symbol: 'triangle', symbolSize: 7,
    lineStyle: { color: '#2020ff', width: 1 }, itemStyle: hollow('#2020ff') },
  { type: 'line', name: '40cm ', xAxisIndex: xf, yAxisIndex: yf, data: every3(soil40), symbol: 'path://M0,0L10,0L5,9Z', symbolSize: 7,
    lineStyle: { color: '#ff00ff', width: 1 }, itemStyle: hollow('#ff00ff') },
  { type: 'line', name: '60cm ', xAxisIndex: xf, yAxisIndex: yf, data: every3(soil60), symbol: 'diamond', symbolSize: 8,
    lineStyle: { color: '#1f7a1f', width: 1 }, itemStyle: { color: '#fff', borderColor: '#1f7a1f', borderWidth: 1.3 } },

  { type: 'custom', xAxisIndex: xg, yAxisIndex: yg, data: months.map((m, i) => [i, laiLow[i], laiHigh[i]]),
    encode: { x: 0, y: [1, 2] },
    renderItem: (params, api) => {
      const lo = api.coord([api.value(0), api.value(1)]);
      const hi = api.coord([api.value(0), api.value(2)]);
      const st = { stroke: '#000', lineWidth: 1 };
      return { type: 'group', children: [
        { type: 'line', shape: { x1: lo[0], y1: lo[1], x2: hi[0], y2: hi[1] }, style: st },
        { type: 'line', shape: { x1: lo[0] - 4, y1: lo[1], x2: lo[0] + 4, y2: lo[1] }, style: st },
        { type: 'line', shape: { x1: hi[0] - 4, y1: hi[1], x2: hi[0] + 4, y2: hi[1] }, style: st }
      ] };
    } },
  { type: 'line', xAxisIndex: xg, yAxisIndex: yg, data: laiMean, symbol: 'rect', symbolSize: 8,
    lineStyle: { color: '#444', width: 1 }, itemStyle: { color: '#000' }, z: 3 }
];

const panelLabel = (text, left, top) => ({ text, left, top, padding: 0,
  textStyle: { fontSize: 15, fontWeight: 'normal', color: '#111', fontFamily: FONT } });

const legendText = { color: '#222', fontFamily: FONT };

const chart = echarts.init(document.getElementById('main'), null, { renderer: 'canvas' });
chart.setOption({
  animation: false,
  backgroundColor: '#fff',
  textStyle: { fontFamily: FONT },
  title: [
    panelLabel('(a)', 58, 27), panelLabel('(b)', 60, 284), panelLabel('(c)', 60, 528), panelLabel('(d)', 60, 788),
    panelLabel('(e)', 621, 12), panelLabel('(f)', 620, 284), panelLabel('(g)', 620, 528)
  ],
  legend: [
    { data: ['Tmax', 'Tmin'], left: 355, top: 278, padding: 0, itemWidth: 30, itemHeight: 8, itemGap: 2,
      selectedMode: false, textStyle: Object.assign({ fontSize: 13 }, legendText) },
    // line-only keys: the symbol part of the icon is made invisible
    { data: ['10cm', '20cm', '30cm', '40cm'], left: 621, top: 22, padding: 0, itemWidth: 34, itemHeight: 10, itemGap: 1,
      itemStyle: { opacity: 0, color: 'rgba(0,0,0,0)', borderWidth: 0 },
      selectedMode: false, textStyle: Object.assign({ fontSize: 14 }, legendText) },
    { data: ['10cm ', '20cm ', '30cm ', '40cm ', '60cm '], formatter: n => n.trim(), left: 738, top: 472, padding: 0,
      itemWidth: 29, itemHeight: 8, itemGap: 0, selectedMode: false, textStyle: Object.assign({ fontSize: 13 }, legendText) }
  ],
  grid: grids,
  xAxis: xAxes,
  yAxis: yAxes,
  series: series
});
</script>
</body>
</html>
